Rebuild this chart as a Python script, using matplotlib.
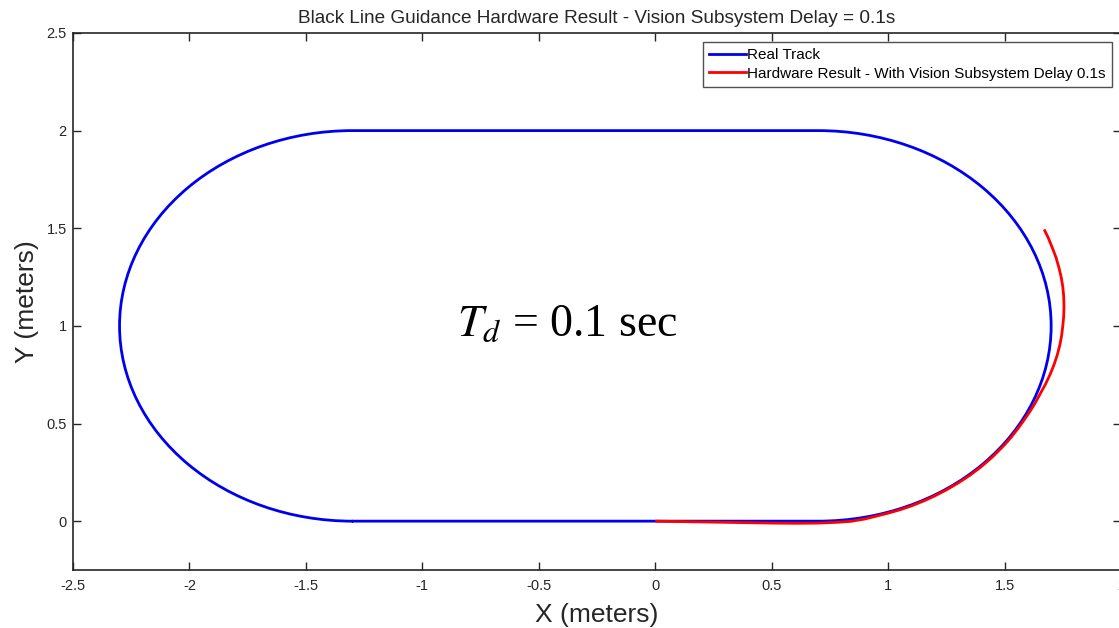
import numpy as np
import matplotlib
matplotlib.use("Agg")
import matplotlib.pyplot as plt
from matplotlib.patches import PathPatch
from matplotlib.path import Path
from matplotlib.transforms import Affine2D
from matplotlib.lines import Line2D

# Track geometry (stadium shape): straight sections joined by two semicircles
straight_x = [-1.3, 0.7]
track_y = [0.0, 2.0]
turn_radius = 1.0
turn_center_y = 1.0

# Measured robot path with 0.1 s vision delay
path_x = [0.00, 0.10, 0.20, 0.30, 0.40, 0.50, 0.60, 0.70, 0.78, 0.84,
          0.90, 0.95, 1.00, 1.05, 1.10, 1.15, 1.20, 1.25, 1.30, 1.35,
          1.40, 1.45, 1.50, 1.53, 1.56, 1.585, 1.608, 1.629, 1.652, 1.675,
          1.695, 1.712, 1.726, 1.737, 1.745, 1.750, 1.754, 1.755, 1.754,
          1.750, 1.743, 1.733, 1.721, 1.705, 1.688, 1.670]
path_y = [0.000, -0.002, -0.004, -0.006, -0.008, -0.010, -0.011, -0.010, -0.006, -0.001,
          0.011, 0.026, 0.041, 0.058, 0.078, 0.102, 0.129, 0.160, 0.195, 0.234,
          0.279, 0.331, 0.391, 0.432, 0.478, 0.520, 0.560, 0.600, 0.650, 0.700,
          0.750, 0.800, 0.850, 0.900, 0.950, 1.000, 1.050, 1.100, 1.150,
          1.200, 1.250, 1.300, 1.350, 1.400, 1.450, 1.494]

x_ticks = [-2.5, -2, -1.5, -1, -0.5, 0, 0.5, 1, 1.5, 2]
x_tick_labels = ["-2.5", "-2", "-1.5", "-1", "-0.5", "0", "0.5", "1", "1.5", "2"]
y_ticks = [0, 0.5, 1, 1.5, 2, 2.5]
y_tick_labels = ["0", "0.5", "1", "1.5", "2", "2.5"]

plt.rcParams["font.family"] = ["Liberation Sans", "DejaVu Sans"]
plt.rcParams["mathtext.fontset"] = "stix"

fig = plt.figure(figsize=(11.19, 6.28), dpi=100)
ax = fig.add_axes([0.0652, 0.0924, 0.9366, 0.8551])

blue = "#0000f0"
red = "#ff0000"
lw = 2.0


def turn(cx, theta1, theta2):
    arc = Path.arc(theta1, theta2)
    tr = Affine2D().scale(turn_radius).translate(cx, turn_center_y)
    return tr.transform(arc.vertices), list(arc.codes)


# Build the whole track as one continuous outline
verts = [(straight_x[0], track_y[0]), (straight_x[1], track_y[0])]
codes = [Path.MOVETO, Path.LINETO]
v, c = turn(straight_x[1], -90, 90)
verts += [tuple(p) for p in v[1:]]
codes += c[1:]
verts.append((straight_x[0], track_y[1]))
codes.append(Path.LINETO)
v, c = turn(straight_x[0], 90, 270)
verts += [tuple(p) for p in v[1:]]
codes += c[1:]
track = PathPatch(Path(verts, codes), fill=False, edgecolor=blue, lw=lw,
                  joinstyle="round", capstyle="round", zorder=2)
ax.add_patch(track)

ax.plot(path_x, path_y, color=red, lw=lw, zorder=3, solid_capstyle="butt",
        solid_joinstyle="round")

ax.set_xlim(-2.5, 2.0)
ax.set_ylim(-0.25, 2.5)
ax.set_xticks(x_ticks)
ax.set_xticklabels(x_tick_labels)
ax.set_yticks(y_ticks)
ax.set_yticklabels(y_tick_labels)

ax.tick_params(direction="in", length=6, width=1.0, top=True, right=True,
               labelsize=10.5, colors="#262626")
ax.tick_params(axis="x", pad=6.5)
ax.tick_params(axis="y", pad=4.5)
for sp in ax.spines.values():
    sp.set_color("#262626")
    sp.set_linewidth(1.2)

ax.set_title("Black Line Guidance Hardware Result - Vision Subsystem Delay = 0.1s",
             fontsize=13.7, color="#262626", pad=7)
ax.set_xlabel("X (meters)", fontsize=19, color="#262626", labelpad=7)
ax.set_ylabel("Y (meters)", fontsize=19, color="#262626", labelpad=5)

handles = [Line2D([], [], color=blue, lw=lw), Line2D([], [], color=red, lw=lw)]
leg = ax.legend(handles, ["Real Track", "Hardware Result - With Vision Subsystem Delay 0.1s"],
                loc="upper right", fontsize=11, frameon=True, fancybox=False,
                edgecolor="#262626", handlelength=2.4, handletextpad=0.1,
                borderpad=0.4, labelspacing=0.3, borderaxespad=0.6)
leg.get_frame().set_linewidth(1.0)

ax.text(-0.38, 0.95, r"$T_d$ = 0.1 sec", fontsize=33, ha="center", va="baseline",
        family=["Liberation Serif", "DejaVu Serif"], color="black")

fig.savefig("out.png", dpi=100, facecolor="white")
